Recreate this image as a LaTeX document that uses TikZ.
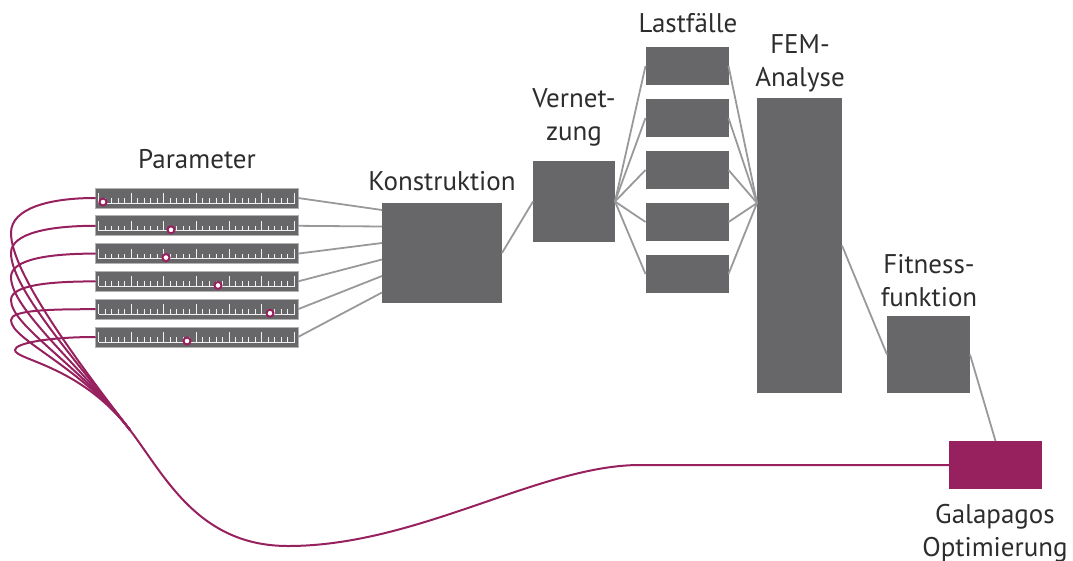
\documentclass[tikz,border=0pt]{standalone}
\usepackage{fontspec}
\setmainfont{PT Sans}
\usetikzlibrary{calc}
\definecolor{boxgray}{RGB}{103,103,105}
\definecolor{linegray}{RGB}{153,153,153}
\definecolor{rimgray}{RGB}{178,178,178}
\definecolor{galmagenta}{RGB}{151,33,95}
\definecolor{textgray}{RGB}{45,45,45}
\tikzset{
  box/.style={fill=boxgray, inner sep=0pt, outer sep=0pt},
  slider/.style={box, draw=rimgray, line width=1pt, minimum width=203pt, minimum height=20pt},
  tick/.style={white!88!gray, line width=1pt},
  knob/.style={circle, draw=galmagenta, fill=white, line width=2pt, inner sep=0pt, minimum size=7pt},
  link/.style={linegray, line width=1.8pt},
  optline/.style={galmagenta, line width=2pt, line cap=round},
  lbl/.style={font=\fontsize{27}{33}\selectfont, text=textgray, align=center, inner sep=0pt, anchor=base},
}
\begin{document}
\begin{tikzpicture}[x=1pt,y=-1pt]
  \useasboundingbox (0,0) rectangle (1073,560);

  % parameter sliders
  \foreach \k/\pos in {1/8,2/76,3/71,4/123,5/175,6/92} {
    \node[slider] (p\k) at (196.5,{198+27.8*(\k-1)}) {};
    \foreach \t in {0,...,30} {
      \pgfmathsetmacro{\h}{mod(\t,5)==0 ? 10 : 5}
      \draw[tick] ($(p\k.west)+({3.5+6.53*\t},5)$) -- ++(0,-\h);
    }
    \draw[tick] ($(p\k.west)+(3.5,5)$) -- ++(196,0);
    \node[knob] (k\k) at ($(p\k.west)+(\pos,4)$) {};
  }

  % process boxes
  \node[box, minimum width=120pt, minimum height=100pt] (konstr) at (442,253) {};
  \node[box, minimum width=82pt, minimum height=81pt] (vernetz) at (574,201.5) {};
  \foreach \j in {1,...,5}
    \node[box, minimum width=83pt, minimum height=38pt] (last\j) at (687,{66+52*(\j-1)}) {};
  \node[box, minimum width=85pt, minimum height=295pt] (fem) at (799.5,245.5) {};
  \node[box, minimum width=83pt, minimum height=77pt] (fitness) at (928.5,354.5) {};
  \node[box, fill=galmagenta, minimum width=93pt, minimum height=48pt] (galapagos) at (995.5,465) {};

  % gray links
  \foreach \k in {1,...,6}
    \draw[link] (p\k.east) -- ($(konstr.north west)+(0,{7+16.5*(\k-1)})$);
  \draw[link] (konstr.east) -- (vernetz.west);
  \coordinate (femin) at ($(fem.north west)+(0,105)$);
  \foreach \j in {1,...,5} {
    \draw[link] (vernetz.east) -- (last\j.west);
    \draw[link] (last\j.east) -- (femin);
  }
  \draw[link] (fem.east) -- (fitness.west);
  \draw[link] (fitness.east) -- (galapagos.north);

  % optimisation loop
  \coordinate (merge) at (130,430);
  \coordinate (bottom) at (288,546);
  \coordinate (flat) at (640,465);
  \foreach \k/\X/\L/\v/\d in {1/11/233/25/40, 2/11/253/20/36, 3/11/277/18/32, 4/11/300/15/26, 5/11/320/10/20, 6/15/350/7/10}
    \draw[optline] (p\k.west) .. controls +(-45,0) and +(0,-\v) .. (\X,\L)
      .. controls +(0,\d) and +(-50,-65) .. (merge);
  \draw[optline] (merge) .. controls +(35,46) and +(-90,0) .. (bottom)
    .. controls +(130,0) and +(-100,0) .. (flat) -- (galapagos.west);

  % labels
  \node[lbl] (parlbl) at (197,168) {Parameter};
  \node[lbl] (konlbl) at (442,190) {Konstruktion};
  \node[lbl] (verlbl) at (574,140) {Vernet-\\zung};
  \node[lbl] (lastlbl) at (688,32) {Lastfälle};
  \node[lbl] (femlbl) at (800,86) {FEM-\\Analyse};
  \node[lbl] (fitlbl) at (929,306) {Fitness-\\funktion};
  \node[lbl] (gallbl) at (995,556) {Galapagos\\Optimierung};
\end{tikzpicture}
\end{document}
